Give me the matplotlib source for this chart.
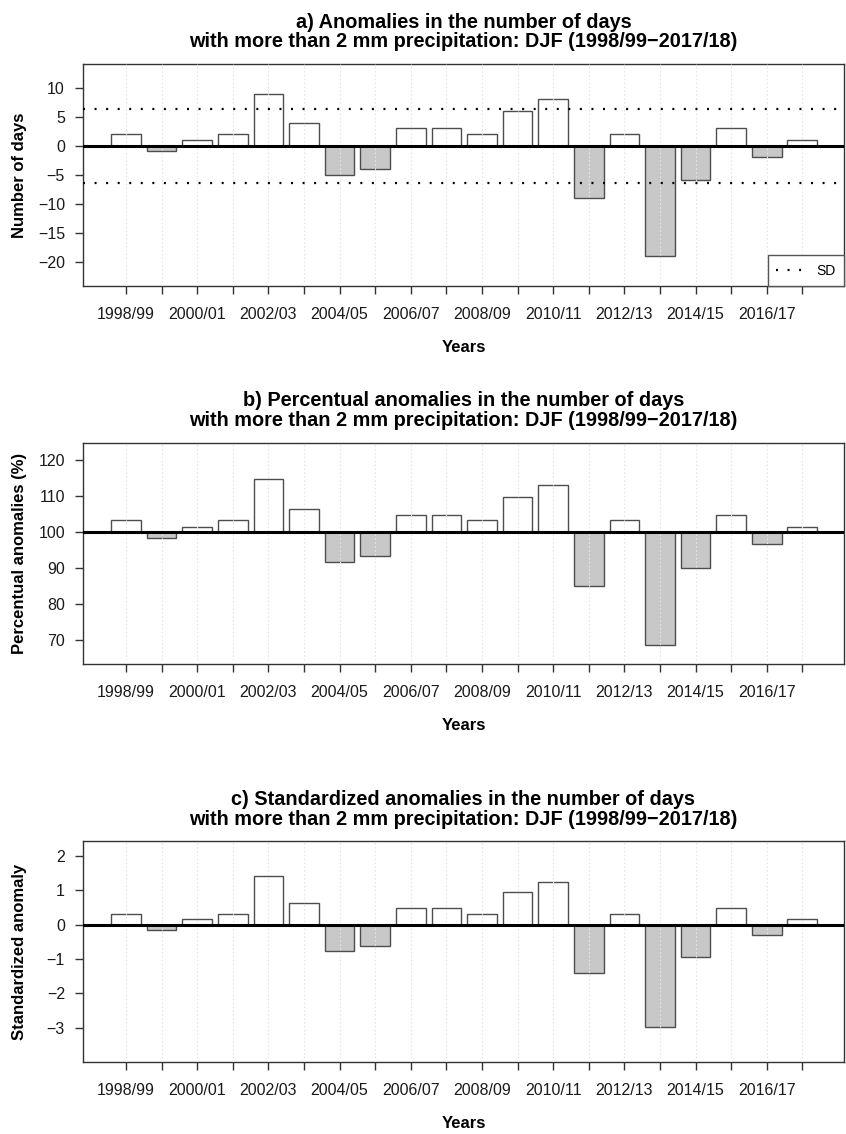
import numpy as np
import matplotlib
matplotlib.use('Agg')
import matplotlib.pyplot as plt
from matplotlib.lines import Line2D

plt.rcParams['font.family'] = ['Liberation Sans', 'DejaVu Sans']

seasons = ['1998/99', '1999/00', '2000/01', '2001/02', '2002/03', '2003/04', '2004/05',
           '2005/06', '2006/07', '2007/08', '2008/09', '2009/10', '2010/11', '2011/12',
           '2012/13', '2013/14', '2014/15', '2015/16', '2016/17', '2017/18']
anom_days = [2, -1, 1, 2, 9, 4, -5, -4, 3, 3, 2, 6, 8, -9, 2, -19, -6, 3, -2, 1]
pct_anom = [103.3, 98.4, 101.6, 103.3, 114.8, 106.6, 91.8, 93.4, 104.9, 104.9,
            103.3, 109.8, 113.1, 85.2, 103.3, 68.8, 90.2, 104.9, 96.7, 101.6]
std_anom = [0.31, -0.16, 0.16, 0.31, 1.41, 0.63, -0.78, -0.63, 0.47, 0.47,
            0.31, 0.94, 1.25, -1.41, 0.31, -2.98, -0.94, 0.47, -0.31, 0.16]
sd_days = 6.38

subtitle = 'with more than 2 mm precipitation: DJF (1998/99\u22122017/18)'
panels = [
    dict(vals=anom_days, base=0, ylim=(-24.2, 14.1), yticks=np.arange(-20, 11, 5),
         ylabel='Number of days', title='a) Anomalies in the number of days',
         pos=[0.0981, 0.7478, 0.8995, 0.1958], sd=sd_days),
    dict(vals=pct_anom, base=100, ylim=(63.4, 124.9), yticks=np.arange(70, 121, 10),
         ylabel='Percentual anomalies (%)', title='b) Percentual anomalies in the number of days',
         pos=[0.0981, 0.4145, 0.8995, 0.1951], sd=None),
    dict(vals=std_anom, base=0, ylim=(-4.0, 2.42), yticks=np.arange(-3, 3, 1),
         ylabel='Standardized anomaly', title='c) Standardized anomalies in the number of days',
         pos=[0.0981, 0.0632, 0.8995, 0.1949], sd=None),
]

fig = plt.figure(figsize=(8.46, 11.34), dpi=100)
x = np.arange(len(seasons))
dark = '#333333'

for p in panels:
    ax = fig.add_axes(p['pos'])
    vals = np.array(p['vals'], dtype=float)
    base = p['base']
    colors = ['white' if v >= base else '#c8c8c8' for v in vals]
    ax.bar(x, vals - base, bottom=base, width=1/1.2, color=colors,
           edgecolor='#4d4d4d', linewidth=1.0, zorder=2)
    # vertical dotted grid above bars
    for xi in x:
        ax.axvline(xi, color='#e6e6e6', lw=0.8, ls=(0, (1.5, 2)), zorder=3)
    ax.axhline(base, color='black', lw=2.2, zorder=4)
    if p['sd'] is not None:
        for s in (p['sd'], -p['sd']):
            ax.axhline(s, color='black', lw=1.6, ls=(0, (0.9, 4.3)), zorder=4)
        h = Line2D([], [], color='black', lw=1.6, ls=(0, (0.9, 4.3)))
        leg = ax.legend([h], ['SD'], loc='lower right', borderaxespad=0, fancybox=False,
                        fontsize=10, handlelength=1.9, handletextpad=1.0, borderpad=0.6,
                        framealpha=1)
        leg.get_frame().set_edgecolor('#555555')
        leg.get_frame().set_linewidth(1.0)
        leg.set_zorder(6)
    ax.set_xlim(-1.21, 20.17)
    ax.set_ylim(*p['ylim'])
    ax.set_yticks(p['yticks'])
    ax.set_xticks(x)
    ax.set_xticklabels([s if i % 2 == 0 else '' for i, s in enumerate(seasons)])
    ax.tick_params(axis='x', length=6, width=1, color=dark, pad=9, labelsize=11.5,
                   labelcolor='#1a1a1a')
    ax.tick_params(axis='y', length=6, width=1, color=dark, pad=7, labelsize=11.5,
                   labelcolor='#1a1a1a')
    for sp in ax.spines.values():
        sp.set_color(dark)
        sp.set_linewidth(1.0)
    ax.set_ylabel(p['ylabel'], fontsize=12, fontweight='bold')
    ax.yaxis.set_label_coords(-0.0736, 0.5)
    ax.set_xlabel('Years', fontsize=12, fontweight='bold')
    ax.xaxis.set_label_coords(0.5, -0.245)
    ax.set_title(p['title'] + '\n' + subtitle, fontsize=14.3, fontweight='bold',
                 linespacing=1.05, pad=12)

fig.savefig('out.png', dpi=100)
